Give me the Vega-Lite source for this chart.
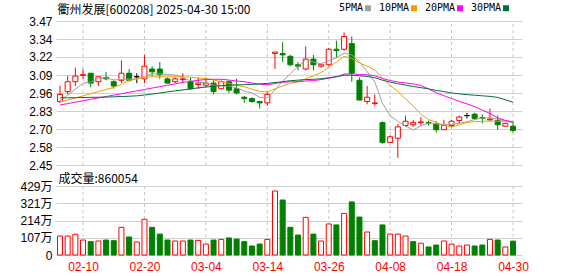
{
"$schema": "https://vega.github.io/schema/vega-lite/v6.json",
"width": 466, "height": 234,
"autosize": {"type": "none"},
"padding": {"left": 56, "top": 21, "right": 56, "bottom": 21},
"background": "#ffffff",
"config": {"view": {"stroke": null}, "font": "Liberation Sans"},
"datasets": {"k": [
{"i":0,"d":"02-05","o":2.90,"h":3.01,"l":2.89,"c":2.95,"v":118,"vd":"u","5PMA":2.905,"10PMA":2.898,"20PMA":2.875,"30PMA":2.925},
{"i":1,"d":"02-06","o":2.97,"h":3.08,"l":2.95,"c":3.04,"v":118,"vd":"u","5PMA":2.946,"10PMA":2.91,"20PMA":2.885,"30PMA":2.926},
{"i":2,"d":"02-07","o":3.04,"h":3.14,"l":3.01,"c":3.08,"v":129,"vd":"u","5PMA":2.986,"10PMA":2.925,"20PMA":2.895,"30PMA":2.927},
{"i":3,"d":"02-10","o":3.085,"h":3.13,"l":3.06,"c":3.09,"v":93,"vd":"u","5PMA":3.029,"10PMA":2.94,"20PMA":2.905,"30PMA":2.928},
{"i":4,"d":"02-11","o":3.10,"h":3.10,"l":3.00,"c":3.03,"v":83,"vd":"d","5PMA":3.038,"10PMA":2.955,"20PMA":2.915,"30PMA":2.929},
{"i":5,"d":"02-12","o":3.04,"h":3.08,"l":3.01,"c":3.075,"v":87,"vd":"u","5PMA":3.063,"10PMA":2.97,"20PMA":2.925,"30PMA":2.93},
{"i":6,"d":"02-13","o":3.07,"h":3.11,"l":3.05,"c":3.06,"v":93,"vd":"d","5PMA":3.067,"10PMA":2.985,"20PMA":2.935,"30PMA":2.931},
{"i":7,"d":"02-14","o":3.04,"h":3.05,"l":2.99,"c":3.01,"v":89,"vd":"d","5PMA":3.053,"10PMA":3.0,"20PMA":2.945,"30PMA":2.933},
{"i":8,"d":"02-17","o":3.05,"h":3.19,"l":3.03,"c":3.10,"v":172,"vd":"u","5PMA":3.055,"10PMA":3.02,"20PMA":2.955,"30PMA":2.935},
{"i":9,"d":"02-18","o":3.10,"h":3.13,"l":3.04,"c":3.05,"v":112,"vd":"d","5PMA":3.059,"10PMA":3.049,"20PMA":2.965,"30PMA":2.937},
{"i":10,"d":"02-19","o":3.075,"h":3.10,"l":3.03,"c":3.075,"v":81,"vd":"u","5PMA":3.059,"10PMA":3.061,"20PMA":2.975,"30PMA":2.94},
{"i":11,"d":"02-20","o":3.06,"h":3.23,"l":3.03,"c":3.15,"v":222,"vd":"u","5PMA":3.077,"10PMA":3.072,"20PMA":2.985,"30PMA":2.946},
{"i":12,"d":"02-21","o":3.13,"h":3.15,"l":3.08,"c":3.11,"v":172,"vd":"d","5PMA":3.097,"10PMA":3.075,"20PMA":2.995,"30PMA":2.953},
{"i":13,"d":"02-24","o":3.13,"h":3.18,"l":3.06,"c":3.09,"v":130,"vd":"d","5PMA":3.095,"10PMA":3.075,"20PMA":3.005,"30PMA":2.96},
{"i":14,"d":"02-25","o":3.06,"h":3.07,"l":3.03,"c":3.03,"v":93,"vd":"d","5PMA":3.091,"10PMA":3.075,"20PMA":3.015,"30PMA":2.968},
{"i":15,"d":"02-26","o":3.04,"h":3.07,"l":3.03,"c":3.06,"v":87,"vd":"u","5PMA":3.088,"10PMA":3.074,"20PMA":3.025,"30PMA":2.975},
{"i":16,"d":"02-27","o":3.055,"h":3.10,"l":3.03,"c":3.06,"v":87,"vd":"u","5PMA":3.07,"10PMA":3.074,"20PMA":3.035,"30PMA":2.982},
{"i":17,"d":"02-28","o":3.04,"h":3.07,"l":2.985,"c":2.99,"v":93,"vd":"d","5PMA":3.046,"10PMA":3.072,"20PMA":3.042,"30PMA":2.989},
{"i":18,"d":"03-03","o":3.02,"h":3.07,"l":2.99,"c":3.03,"v":91,"vd":"u","5PMA":3.034,"10PMA":3.065,"20PMA":3.05,"30PMA":2.996},
{"i":19,"d":"03-04","o":3.015,"h":3.07,"l":3.0,"c":3.03,"v":68,"vd":"u","5PMA":3.034,"10PMA":3.063,"20PMA":3.056,"30PMA":3.002},
{"i":20,"d":"03-05","o":3.03,"h":3.05,"l":2.95,"c":2.97,"v":93,"vd":"d","5PMA":3.016,"10PMA":3.052,"20PMA":3.057,"30PMA":3.008},
{"i":21,"d":"03-06","o":2.99,"h":3.05,"l":2.99,"c":3.04,"v":97,"vd":"u","5PMA":3.012,"10PMA":3.041,"20PMA":3.057,"30PMA":3.012},
{"i":22,"d":"03-07","o":3.04,"h":3.05,"l":2.96,"c":2.98,"v":106,"vd":"d","5PMA":3.01,"10PMA":3.028,"20PMA":3.052,"30PMA":3.015},
{"i":23,"d":"03-10","o":2.99,"h":3.06,"l":2.95,"c":2.96,"v":99,"vd":"d","5PMA":2.996,"10PMA":3.015,"20PMA":3.045,"30PMA":3.017},
{"i":24,"d":"03-11","o":2.93,"h":2.94,"l":2.89,"c":2.92,"v":83,"vd":"d","5PMA":2.974,"10PMA":3.004,"20PMA":3.04,"30PMA":3.019},
{"i":25,"d":"03-12","o":2.92,"h":2.93,"l":2.89,"c":2.90,"v":56,"vd":"d","5PMA":2.96,"10PMA":2.988,"20PMA":3.031,"30PMA":3.021},
{"i":26,"d":"03-13","o":2.90,"h":2.90,"l":2.85,"c":2.89,"v":68,"vd":"d","5PMA":2.93,"10PMA":2.971,"20PMA":3.022,"30PMA":3.024},
{"i":27,"d":"03-14","o":2.89,"h":2.97,"l":2.87,"c":2.95,"v":97,"vd":"u","5PMA":2.924,"10PMA":2.967,"20PMA":3.019,"30PMA":3.028},
{"i":28,"d":"03-17","o":3.24,"h":3.25,"l":3.13,"c":3.25,"v":398,"vd":"u","5PMA":2.982,"10PMA":2.989,"20PMA":3.027,"30PMA":3.034},
{"i":29,"d":"03-18","o":3.24,"h":3.32,"l":3.18,"c":3.23,"v":342,"vd":"d","5PMA":3.044,"10PMA":3.009,"20PMA":3.036,"30PMA":3.04},
{"i":30,"d":"03-19","o":3.22,"h":3.23,"l":3.15,"c":3.16,"v":172,"vd":"d","5PMA":3.096,"10PMA":3.028,"20PMA":3.04,"30PMA":3.047},
{"i":31,"d":"03-20","o":3.16,"h":3.18,"l":3.12,"c":3.15,"v":124,"vd":"d","5PMA":3.148,"10PMA":3.039,"20PMA":3.04,"30PMA":3.051},
{"i":32,"d":"03-21","o":3.13,"h":3.29,"l":3.12,"c":3.20,"v":234,"vd":"u","5PMA":3.198,"10PMA":3.061,"20PMA":3.045,"30PMA":3.055},
{"i":33,"d":"03-24","o":3.20,"h":3.23,"l":3.12,"c":3.16,"v":130,"vd":"d","5PMA":3.18,"10PMA":3.081,"20PMA":3.048,"30PMA":3.057},
{"i":34,"d":"03-25","o":3.15,"h":3.17,"l":3.14,"c":3.16,"v":87,"vd":"u","5PMA":3.166,"10PMA":3.105,"20PMA":3.055,"30PMA":3.061},
{"i":35,"d":"03-26","o":3.16,"h":3.28,"l":3.15,"c":3.27,"v":193,"vd":"u","5PMA":3.188,"10PMA":3.142,"20PMA":3.065,"30PMA":3.068},
{"i":36,"d":"03-27","o":3.27,"h":3.33,"l":3.21,"c":3.26,"v":187,"vd":"d","5PMA":3.21,"10PMA":3.179,"20PMA":3.075,"30PMA":3.075},
{"i":37,"d":"03-28","o":3.27,"h":3.39,"l":3.26,"c":3.36,"v":259,"vd":"u","5PMA":3.242,"10PMA":3.22,"20PMA":3.094,"30PMA":3.086},
{"i":38,"d":"03-31","o":3.31,"h":3.36,"l":3.04,"c":3.10,"v":330,"vd":"d","5PMA":3.23,"10PMA":3.205,"20PMA":3.097,"30PMA":3.086},
{"i":39,"d":"04-01","o":3.05,"h":3.07,"l":2.91,"c":2.91,"v":236,"vd":"d","5PMA":3.18,"10PMA":3.173,"20PMA":3.091,"30PMA":3.082},
{"i":40,"d":"04-02","o":2.90,"h":3.01,"l":2.88,"c":2.93,"v":143,"vd":"u","5PMA":3.112,"10PMA":3.15,"20PMA":3.089,"30PMA":3.077},
{"i":41,"d":"04-03","o":2.885,"h":2.95,"l":2.87,"c":2.89,"v":89,"vd":"d","5PMA":3.038,"10PMA":3.124,"20PMA":3.082,"30PMA":3.068},
{"i":42,"d":"04-07","o":2.75,"h":2.76,"l":2.60,"c":2.61,"v":187,"vd":"d","5PMA":2.888,"10PMA":3.065,"20PMA":3.063,"30PMA":3.051},
{"i":43,"d":"04-08","o":2.61,"h":2.66,"l":2.61,"c":2.65,"v":130,"vd":"u","5PMA":2.798,"10PMA":3.014,"20PMA":3.048,"30PMA":3.037},
{"i":44,"d":"04-09","o":2.64,"h":2.74,"l":2.50,"c":2.72,"v":130,"vd":"u","5PMA":2.76,"10PMA":2.97,"20PMA":3.038,"30PMA":3.026},
{"i":45,"d":"04-10","o":2.73,"h":2.80,"l":2.72,"c":2.76,"v":118,"vd":"u","5PMA":2.726,"10PMA":2.919,"20PMA":3.031,"30PMA":3.016},
{"i":46,"d":"04-11","o":2.735,"h":2.77,"l":2.72,"c":2.75,"v":83,"vd":"d","5PMA":2.698,"10PMA":2.868,"20PMA":3.024,"30PMA":3.006},
{"i":47,"d":"04-14","o":2.75,"h":2.79,"l":2.73,"c":2.755,"v":73,"vd":"u","5PMA":2.727,"10PMA":2.808,"20PMA":3.014,"30PMA":2.998},
{"i":48,"d":"04-15","o":2.75,"h":2.765,"l":2.73,"c":2.745,"v":50,"vd":"d","5PMA":2.746,"10PMA":2.772,"20PMA":2.989,"30PMA":2.989},
{"i":49,"d":"04-16","o":2.74,"h":2.76,"l":2.68,"c":2.70,"v":62,"vd":"d","5PMA":2.742,"10PMA":2.751,"20PMA":2.962,"30PMA":2.978},
{"i":50,"d":"04-17","o":2.70,"h":2.77,"l":2.70,"c":2.73,"v":87,"vd":"u","5PMA":2.736,"10PMA":2.731,"20PMA":2.941,"30PMA":2.97},
{"i":51,"d":"04-18","o":2.73,"h":2.77,"l":2.72,"c":2.76,"v":68,"vd":"u","5PMA":2.738,"10PMA":2.718,"20PMA":2.921,"30PMA":2.96},
{"i":52,"d":"04-21","o":2.765,"h":2.80,"l":2.745,"c":2.79,"v":56,"vd":"u","5PMA":2.745,"10PMA":2.736,"20PMA":2.901,"30PMA":2.954},
{"i":53,"d":"04-22","o":2.80,"h":2.82,"l":2.78,"c":2.80,"v":62,"vd":"u","5PMA":2.756,"10PMA":2.751,"20PMA":2.883,"30PMA":2.949},
{"i":54,"d":"04-23","o":2.81,"h":2.82,"l":2.77,"c":2.78,"v":56,"vd":"d","5PMA":2.772,"10PMA":2.757,"20PMA":2.864,"30PMA":2.944},
{"i":55,"d":"04-24","o":2.785,"h":2.81,"l":2.745,"c":2.78,"v":62,"vd":"d","5PMA":2.782,"10PMA":2.759,"20PMA":2.839,"30PMA":2.94},
{"i":56,"d":"04-25","o":2.77,"h":2.85,"l":2.76,"c":2.775,"v":97,"vd":"u","5PMA":2.785,"10PMA":2.762,"20PMA":2.815,"30PMA":2.936},
{"i":57,"d":"04-28","o":2.765,"h":2.80,"l":2.70,"c":2.735,"v":93,"vd":"d","5PMA":2.774,"10PMA":2.76,"20PMA":2.784,"30PMA":2.929},
{"i":58,"d":"04-29","o":2.725,"h":2.75,"l":2.72,"c":2.745,"v":50,"vd":"u","5PMA":2.763,"10PMA":2.76,"20PMA":2.766,"30PMA":2.912},
{"i":59,"d":"04-30","o":2.725,"h":2.755,"l":2.68,"c":2.695,"v":86,"vd":"d","5PMA":2.746,"10PMA":2.759,"20PMA":2.755,"30PMA":2.894}
]},
"data": {"name": "k"},
"encoding": {
  "x": {"field": "i", "type": "quantitative",
        "scale": {"domain": [-0.52, 60.17], "nice": false, "zero": false, "padding": 0},
        "axis": {"values": [3, 11, 19, 27, 35, 43, 51, 59], "tickCount": 20,
                 "labelExpr": "datum.value==3?'02-10':datum.value==11?'02-20':datum.value==19?'03-04':datum.value==27?'03-14':datum.value==35?'03-26':datum.value==43?'04-08':datum.value==51?'04-18':'04-30'",
                 "grid": false, "ticks": false, "domain": false, "labelFlush": false, "labelOverlap": false,
                 "labelColor": "#ff0000", "labelFont": "Liberation Sans", "labelFontSize": 12,
                 "labelPadding": 6, "title": null}}
},
"layer": [
  {"layer": [
    {"transform": [{"filter": {"field": "d", "oneOf": ["02-10","02-20","03-04","03-14","03-26","04-08","04-18","04-30"]}}],
     "mark": {"type": "rule", "color": "#c8c8c8", "strokeDash": [3, 3], "strokeWidth": 1},
     "encoding": {
       "y": {"datum": 2.45, "type": "quantitative",
             "scale": {"domain": [2.45, 3.47], "range": [144, 0], "nice": false, "zero": false},
             "axis": {"values": [2.45, 2.5775, 2.7049, 2.8325, 2.96, 3.0875, 3.2151, 3.3425, 3.47], "tickCount": 20,
                      "format": ".2f", "grid": true, "gridColor": "#d0d0d0", "domain": false, "ticks": false,
                      "labelOverlap": false, "labelFlush": false,
                      "labelPadding": 4, "labelFont": "Liberation Sans", "labelFontSize": 12, "labelColor": "#000000",
                      "orient": "left",
                      "title": "衢州发展[600208] 2025-04-30 15:00", "titleAngle": 0, "titleX": 1, "titleY": -12,
                      "titleAlign": "left", "titleBaseline": "middle", "titleFont": "Noto Sans CJK SC",
                      "titleFontSize": 12, "titleFontWeight": "normal", "titleColor": "#000000"}},
       "y2": {"datum": 3.47}}},
    {"mark": {"type": "rule", "strokeWidth": 1},
     "encoding": {
       "y": {"field": "l", "type": "quantitative", "scale": {"domain": [2.45, 3.47], "range": [144, 0], "nice": false, "zero": false}},
       "y2": {"field": "h"},
       "color": {"condition": [{"test": "datum.c > datum.o", "value": "#ff0000"}, {"test": "datum.c == datum.o", "value": "#000000"}], "value": "#008000"}}},
    {"mark": {"type": "bar", "width": 5, "orient": "vertical", "strokeWidth": 1},
     "encoding": {
       "y": {"field": "o", "type": "quantitative", "scale": {"domain": [2.45, 3.47], "range": [144, 0], "nice": false, "zero": false}},
       "y2": {"field": "c"},
       "fill": {"condition": [{"test": "datum.c > datum.o", "value": "#ffffff"}, {"test": "datum.c == datum.o", "value": "#000000"}], "value": "#008000"},
       "stroke": {"condition": [{"test": "datum.c > datum.o", "value": "#ff0000"}, {"test": "datum.c == datum.o", "value": "#000000"}], "value": "#008000"}}},
    {"transform": [{"fold": ["5PMA", "10PMA", "20PMA", "30PMA"], "as": ["k", "val"]}],
     "mark": {"type": "line", "strokeWidth": 1},
     "encoding": {
       "y": {"field": "val", "type": "quantitative", "scale": {"domain": [2.45, 3.47], "range": [144, 0], "nice": false, "zero": false}},
       "color": {"field": "k", "type": "nominal",
                 "scale": {"domain": ["5PMA", "10PMA", "20PMA", "30PMA"], "range": ["#a0a0a0", "#f0a000", "#ff00ff", "#00703c"]},
                 "legend": {"orient": "none", "legendX": 307, "legendY": -18, "direction": "horizontal", "title": null,
                            "symbolType": "square", "symbolSize": 9, "symbolStrokeWidth": 3,
                            "labelAlign": "right", "labelOffset": -10, "labelFont": "DejaVu Sans Mono", "labelFontSize": 10,
                            "labelColor": "#000000", "columnPadding": 2, "padding": 0}}}},
    {"data": {"values": [{}]},
     "mark": {"type": "rect", "fillOpacity": 0, "stroke": "#999999", "strokeWidth": 1},
     "encoding": {
       "x": {"datum": -0.52, "type": "quantitative"}, "x2": {"datum": 60.17},
       "y": {"datum": 2.45, "type": "quantitative", "scale": {"domain": [2.45, 3.47], "range": [144, 0], "nice": false, "zero": false}},
       "y2": {"datum": 3.47}}}
  ]},
  {"layer": [
    {"transform": [{"filter": {"field": "d", "oneOf": ["02-10","02-20","03-04","03-14","03-26","04-08","04-18","04-30"]}}],
     "mark": {"type": "rule", "color": "#c8c8c8", "strokeDash": [3, 3], "strokeWidth": 1},
     "encoding": {
       "y": {"datum": 0, "type": "quantitative",
             "scale": {"domain": [0, 429], "range": [234, 165], "nice": false},
             "axis": {"values": [0, 107.25, 214.5, 321.75, 429], "tickCount": 20,
                      "labelExpr": "datum.value == 0 ? '0' : floor(datum.value) + '万'",
                      "grid": true, "gridColor": "#d0d0d0", "domain": false, "ticks": false,
                      "labelOverlap": false, "labelFlush": false,
                      "labelPadding": 4, "labelFont": "Liberation Sans, Noto Sans CJK SC", "labelFontSize": 12, "labelColor": "#000000",
                      "orient": "left",
                      "title": "成交量:860054", "titleAngle": 0, "titleX": 2, "titleY": 157,
                      "titleAlign": "left", "titleBaseline": "middle", "titleFont": "Noto Sans CJK SC",
                      "titleFontSize": 12, "titleFontWeight": "normal", "titleColor": "#000000"}},
       "y2": {"datum": 429}}},
    {"mark": {"type": "bar", "width": 5, "orient": "vertical", "strokeWidth": 1},
     "encoding": {
       "y": {"field": "v", "type": "quantitative", "scale": {"domain": [0, 429], "range": [234, 165], "nice": false}},
       "fill": {"condition": {"test": "datum.vd == 'u'", "value": "#ffffff"}, "value": "#008000"},
       "stroke": {"condition": {"test": "datum.vd == 'u'", "value": "#ff0000"}, "value": "#008000"}}},
    {"data": {"values": [{}]},
     "mark": {"type": "rect", "fillOpacity": 0, "stroke": "#999999", "strokeWidth": 1},
     "encoding": {
       "x": {"datum": -0.52, "type": "quantitative"}, "x2": {"datum": 60.17},
       "y": {"datum": 0, "type": "quantitative", "scale": {"domain": [0, 429], "range": [234, 165], "nice": false}},
       "y2": {"datum": 429}}}
  ]}
],
"resolve": {"scale": {"y": "independent"}}
}
